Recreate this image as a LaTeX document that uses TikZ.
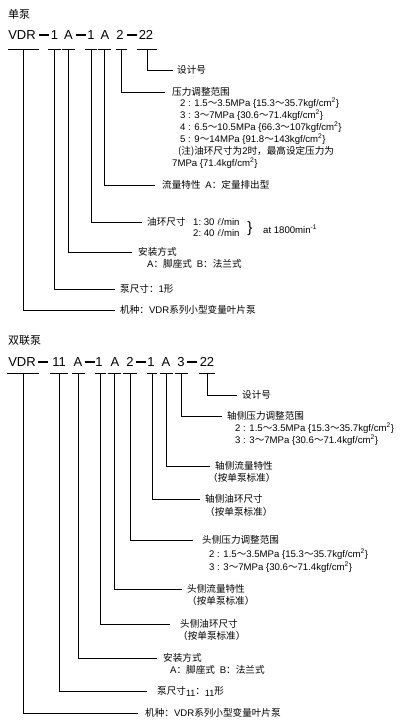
\documentclass[tikz,border=0pt]{standalone}
\usepackage{fontspec}
\setmainfont{Liberation Sans}
\newfontfamily\cjk{Noto Sans CJK SC}
\newcommand\zh[1]{{\cjk #1}}
\newcommand\tl{\zh{～}}
\newcommand\cm{kgf/cm\textsuperscript{2}}
\newcommand\codedash{\rule{10pt}{1.2pt}}
% underline of one code part: name, y, x1, x2
\newcommand\seg[4]{%
  \draw[rule] (#3,#2) -- (#4,#2);
  \coordinate (#1) at ({(#3+#4)/2},#2);}

\begin{document}
\begin{tikzpicture}[x=1pt,y=-1pt,
  code/.style={font=\fontsize{13}{13}\selectfont, inner sep=0pt},
  tag/.style={font=\fontsize{9.6}{11}\selectfont, inner sep=0pt, anchor=west},
  head/.style={font=\fontsize{11}{13}\selectfont, inner sep=0pt, anchor=west},
  rule/.style={line width=0.9pt},
  link/.style={line width=0.9pt, shorten >=5pt}]
\useasboundingbox (0,0) rectangle (413,726);

% single pump
\node[head] (t-single) at (8,14) {\zh{单泵}};

\node[code] (sv) at (22,35) {VDR};
\node[code] (sd1) at (44,35) {\codedash};
\node[code] (s1) at (54.5,35) {1};
\node[code] (sa) at (68.5,35) {A};
\node[code] (sd2) at (81,35) {\codedash};
\node[code] (s1b) at (91,35) {1};
\node[code] (sab) at (105,35) {A};
\node[code] (s2) at (120,35) {2};
\node[code] (sd3) at (132,35) {\codedash};
\node[code] (s22) at (146,35) {22};

\seg{us-v}{49}{8}{39}
\seg{us-1}{49}{48}{61}
\seg{us-a}{49}{62}{75}
\seg{us-1b}{49}{85}{97}
\seg{us-ab}{49}{98}{111}
\seg{us-2}{49}{116}{127}
\seg{us-22}{49}{137}{157}

\node[tag] (ls-design) at (177,70) {\zh{设计号}};
\node[tag] (ls-press) at (172,92) {\zh{压力调整范围}};
\node[tag] (ls-p2) at (180,103) {2 : 1.5\tl3.5MPa \{15.3\tl35.7\cm\}};
\node[tag] (ls-p3) at (180,115) {3 : 3\tl7MPa \{30.6\tl71.4\cm\}};
\node[tag] (ls-p4) at (180,127) {4 : 6.5\tl10.5MPa \{66.3\tl107\cm\}};
\node[tag] (ls-p5) at (180,139) {5 : 9\tl14MPa \{91.8\tl143\cm\}};
\node[tag] (ls-note) at (178,151) {\zh{(注)油环尺寸为}2\zh{时，最高设定压力为}};
\node[tag] (ls-note2) at (172,163) {7MPa \{71.4\cm\}};
\node[tag] (ls-flow) at (162,185) {\zh{流量特性}\enspace A\zh{：定量排出型}};
\node[tag] (ls-ring) at (147,222) {\zh{油环尺寸}};
\node[tag] (ls-r1) at (193,222) {1:\ 30 $\ell$/min};
\node[tag] (ls-r2) at (193,233) {2:\ 40 $\ell$/min};
\node[inner sep=0pt, font=\fontsize{15}{15}\selectfont] (ls-brace) at (250,229) {\}};
\node[tag] (ls-rpm) at (263,229) {at 1800min\textsuperscript{-1}};
\node[tag] (ls-mount) at (138,252) {\zh{安装方式}};
\node[tag] (ls-m2) at (147,264) {A\zh{：脚座式}\enspace B\zh{：法兰式}};
\node[tag] (ls-size) at (120,289) {\zh{泵尺寸：}1\zh{形}};
\node[tag] (ls-kind) at (120,310) {\zh{机种：}VDR\zh{系列小型变量叶片泵}};

\draw[link, shorten >=4pt] (us-22) |- (ls-design.west);
\draw[link, shorten >=7pt] (us-2) |- (ls-press.west);
\draw[link, shorten >=7pt] (us-ab) |- (ls-flow.west);
\draw[link] (us-1b) |- (ls-ring.west);
\draw[link, shorten >=6pt] (us-a) |- (ls-mount.west);
\draw[link] (us-1) |- (ls-size.west);
\draw[link] (us-v) |- (ls-kind.west);

% double pump
\node[head] (t-double) at (8,340) {\zh{双联泵}};

\node[code] (dv) at (22,362) {VDR};
\node[code] (dd1) at (43,362) {\codedash};
\node[code] (d11) at (59,362) {11};
\node[code] (da) at (78,362) {A};
\node[code] (dd2) at (90,362) {\codedash};
\node[code] (d1) at (99,362) {1};
\node[code] (dab) at (115,362) {A};
\node[code] (d2) at (130,362) {2};
\node[code] (dd3) at (141,362) {\codedash};
\node[code] (d1b) at (151,362) {1};
\node[code] (dac) at (166,362) {A};
\node[code] (d3) at (181,362) {3};
\node[code] (dd4) at (192,362) {\codedash};
\node[code] (d22) at (207,362) {22};

\seg{ud-v}{373}{7}{39}
\seg{ud-11}{373}{50}{68}
\seg{ud-a}{373}{72}{85}
\seg{ud-1}{373}{95}{106}
\seg{ud-ab}{373}{108}{121}
\seg{ud-2}{373}{123}{137}
\seg{ud-1b}{373}{147}{157}
\seg{ud-ac}{373}{160}{173}
\seg{ud-3}{373}{175}{188}
\seg{ud-22}{373}{199}{215}

\node[tag] (ld-design) at (242,395) {\zh{设计号}};
\node[tag] (ld-spress) at (227,416) {\zh{轴侧压力调整范围}};
\node[tag] (ld-sp2) at (235,428) {2 : 1.5\tl3.5MPa \{15.3\tl35.7\cm\}};
\node[tag] (ld-sp3) at (235,440) {3 : 3\tl7MPa \{30.6\tl71.4\cm\}};
\node[tag] (ld-sflow) at (215,466) {\zh{轴侧流量特性}};
\node[tag] (ld-sflow2) at (208,478) {\zh{（按单泵标准）}};
\node[tag] (ld-sring) at (205,499) {\zh{轴侧油环尺寸}};
\node[tag] (ld-sring2) at (205,512) {\zh{（按单泵标准）}};
\node[tag] (ld-hpress) at (202,540) {\zh{头侧压力调整范围}};
\node[tag] (ld-hp2) at (209,554) {2 : 1.5\tl3.5MPa \{15.3\tl35.7\cm\}};
\node[tag] (ld-hp3) at (209,567) {3 : 3\tl7MPa \{30.6\tl71.4\cm\}};
\node[tag] (ld-hflow) at (187,589) {\zh{头侧流量特性}};
\node[tag] (ld-hflow2) at (187,601) {\zh{（按单泵标准）}};
\node[tag] (ld-hring) at (180,624) {\zh{头侧油环尺寸}};
\node[tag] (ld-hring2) at (178,636) {\zh{（按单泵标准）}};
\node[tag] (ld-mount) at (163,658) {\zh{安装方式}};
\node[tag] (ld-m2) at (170,670) {A\zh{：脚座式}\enspace B\zh{：法兰式}};
\node[tag] (ld-size) at (157,691) {\zh{泵尺寸}\raisebox{-2pt}{\small 11}\zh{：}\raisebox{-2pt}{\small 11}\zh{形}};
\node[tag] (ld-kind) at (145,713) {\zh{机种：}VDR\zh{系列小型变量叶片泵}};

\draw[link] (ud-22) |- (ld-design.west);
\draw[link] (ud-3) |- (ld-spress.west);
\draw[link] (ud-ac) |- (ld-sflow.west);
\draw[link] (ud-1b) |- (ld-sring.west);
\draw[link, shorten >=9pt] (ud-2) |- (ld-hpress.west);
\draw[link] (ud-ab) |- (ld-hflow.west);
\draw[link, shorten >=10pt] (ud-1) |- (ld-hring.west);
\draw[link, shorten >=6pt] (ud-a) |- (ld-mount.west);
\draw[link, shorten >=10pt] (ud-11) |- (ld-size.west);
\draw[link, shorten >=7pt] (ud-v) |- (ld-kind.west);
\end{tikzpicture}
\end{document}
